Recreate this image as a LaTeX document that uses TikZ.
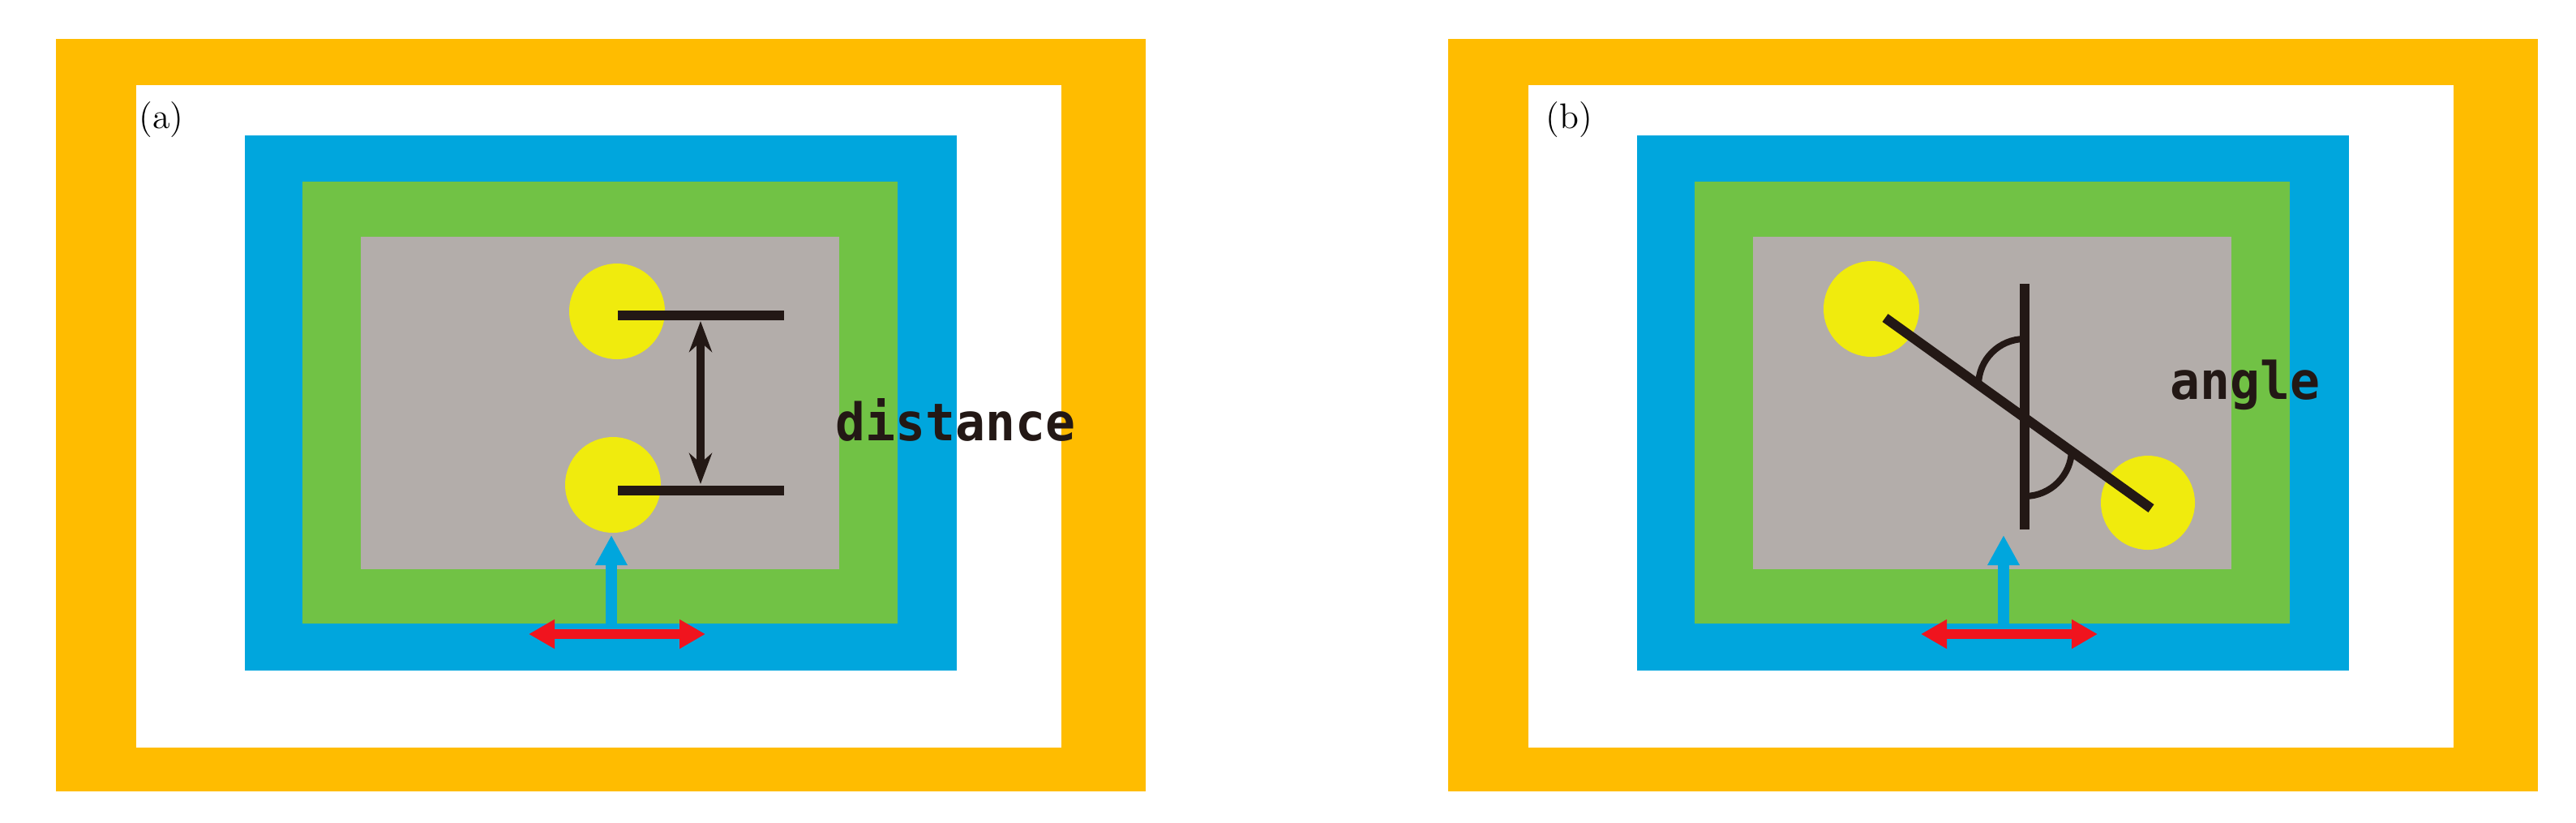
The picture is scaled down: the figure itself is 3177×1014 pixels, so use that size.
\documentclass[tikz,border=0pt]{standalone}
\usepackage{fontspec}
\newfontfamily\tagfont[FakeStretch=0.96]{DejaVu Sans Mono}
\usetikzlibrary{arrows.meta}

\definecolor{frameorange}{RGB}{255,188,0}
\definecolor{layerblue}{RGB}{0,166,221}
\definecolor{layergreen}{RGB}{113,194,69}
\definecolor{basegray}{RGB}{179,173,170}
\definecolor{ballyellow}{RGB}{240,235,13}
\definecolor{rodblack}{RGB}{35,24,21}
\definecolor{pushred}{RGB}{240,20,30}

\tikzset{
  ball/.style={fill=ballyellow},
  rod/.style={draw=rodblack, line width=1.2mm},
  gap/.style={draw=rodblack, line width=1mm,
    {Stealth[length=3.8mm, width=2.8mm]}-{Stealth[length=3.8mm, width=2.8mm]}},
  anglearc/.style={draw=rodblack, line width=0.8mm},
  slide/.style={draw=pushred, line width=1.2mm,
    {Triangle[length=3.2mm, width=3.4mm]}-{Triangle[length=3.2mm, width=3.4mm]}},
  lift/.style={draw=layerblue, line width=1.4mm,
    -{Triangle[length=3.7mm, width=3.7mm]}},
  word/.style={text=rodblack, inner sep=0pt, anchor=base west,
    font=\tagfont\bfseries\fontsize{18.2pt}{20pt}\selectfont},
  tag/.style={inner sep=0pt, anchor=north west,
    font=\fontsize{12.5pt}{14pt}\selectfont}
}

\begin{document}
\begin{tikzpicture}[x=0.1mm, y=-0.1mm]
    \useasboundingbox[fill=white] (0,0) rectangle (3177,1014);

    \begin{scope}
        \fill[frameorange] (69,48) rectangle (1413,976);
        \fill[white] (168,105) rectangle (1309,922);
        \fill[layerblue] (302,167) rectangle (1180,827);
        \fill[layergreen] (373,224) rectangle (1107,769);
        \fill[basegray] (445,292) rectangle (1035,702);
        \node[tag] (a-tag) at (171,125) {(a)};

        \coordinate (a-top) at (761,384);
        \coordinate (a-low) at (756,598);
        \fill[ball] (a-top) circle[radius=59];
        \fill[ball] (a-low) circle[radius=59];

        \coordinate (a-topstart) at (762,389);
        \coordinate (a-topend) at (967,389);
        \coordinate (a-lowstart) at (762,605);
        \coordinate (a-lowend) at (967,605);
        \draw[rod] (a-topstart) -- (a-topend);
        \draw[rod] (a-lowstart) -- (a-lowend);

        \coordinate (a-gaptop) at (864,396);
        \coordinate (a-gapbot) at (864,597);
        \draw[gap] (a-gaptop) -- (a-gapbot);
        \node[word] (a-word) at (1030,543) {distance};

        \coordinate (a-left) at (652,782);
        \coordinate (a-right) at (870,782);
        \coordinate (a-foot) at (754,775);
        \coordinate (a-head) at (754,660);
        \draw[lift] (a-foot) -- (a-head);
        \draw[slide] (a-left) -- (a-right);
    \end{scope}

    \begin{scope}[shift={(1717,0)}]
        \fill[frameorange] (69,48) rectangle (1413,976);
        \fill[white] (168,105) rectangle (1309,922);
        \fill[layerblue] (302,167) rectangle (1180,827);
        \fill[layergreen] (373,224) rectangle (1107,769);
        \fill[basegray] (445,292) rectangle (1035,702);
        \node[tag] (b-tag) at (189,125) {(b)};

        \coordinate (b-top) at (591,381);
        \coordinate (b-low) at (932,620);
        \fill[ball] (b-top) circle[radius=59];
        \fill[ball] (b-low) circle[radius=58];

        \coordinate (b-start) at (608,392);
        \coordinate (b-end) at (936,627);
        \coordinate (b-up) at (780,350);
        \coordinate (b-down) at (780,653);
        \draw[rod] (b-start) -- (b-end);
        \draw[rod] (b-up) -- (b-down);

        \coordinate (b-arcup) at (780,418);
        \coordinate (b-arclow) at (780,612);
        \draw[anglearc] (b-arcup) arc[start angle=-90, end angle=-180, radius=57];
        \draw[anglearc] (b-arclow) arc[start angle=90, end angle=0, radius=58];
        \node[word] (b-word) at (959,492) {angle};

        \coordinate (b-left) at (652,782);
        \coordinate (b-right) at (870,782);
        \coordinate (b-foot) at (754,775);
        \coordinate (b-head) at (754,660);
        \draw[lift] (b-foot) -- (b-head);
        \draw[slide] (b-left) -- (b-right);
    \end{scope}

\end{tikzpicture}
\end{document}
